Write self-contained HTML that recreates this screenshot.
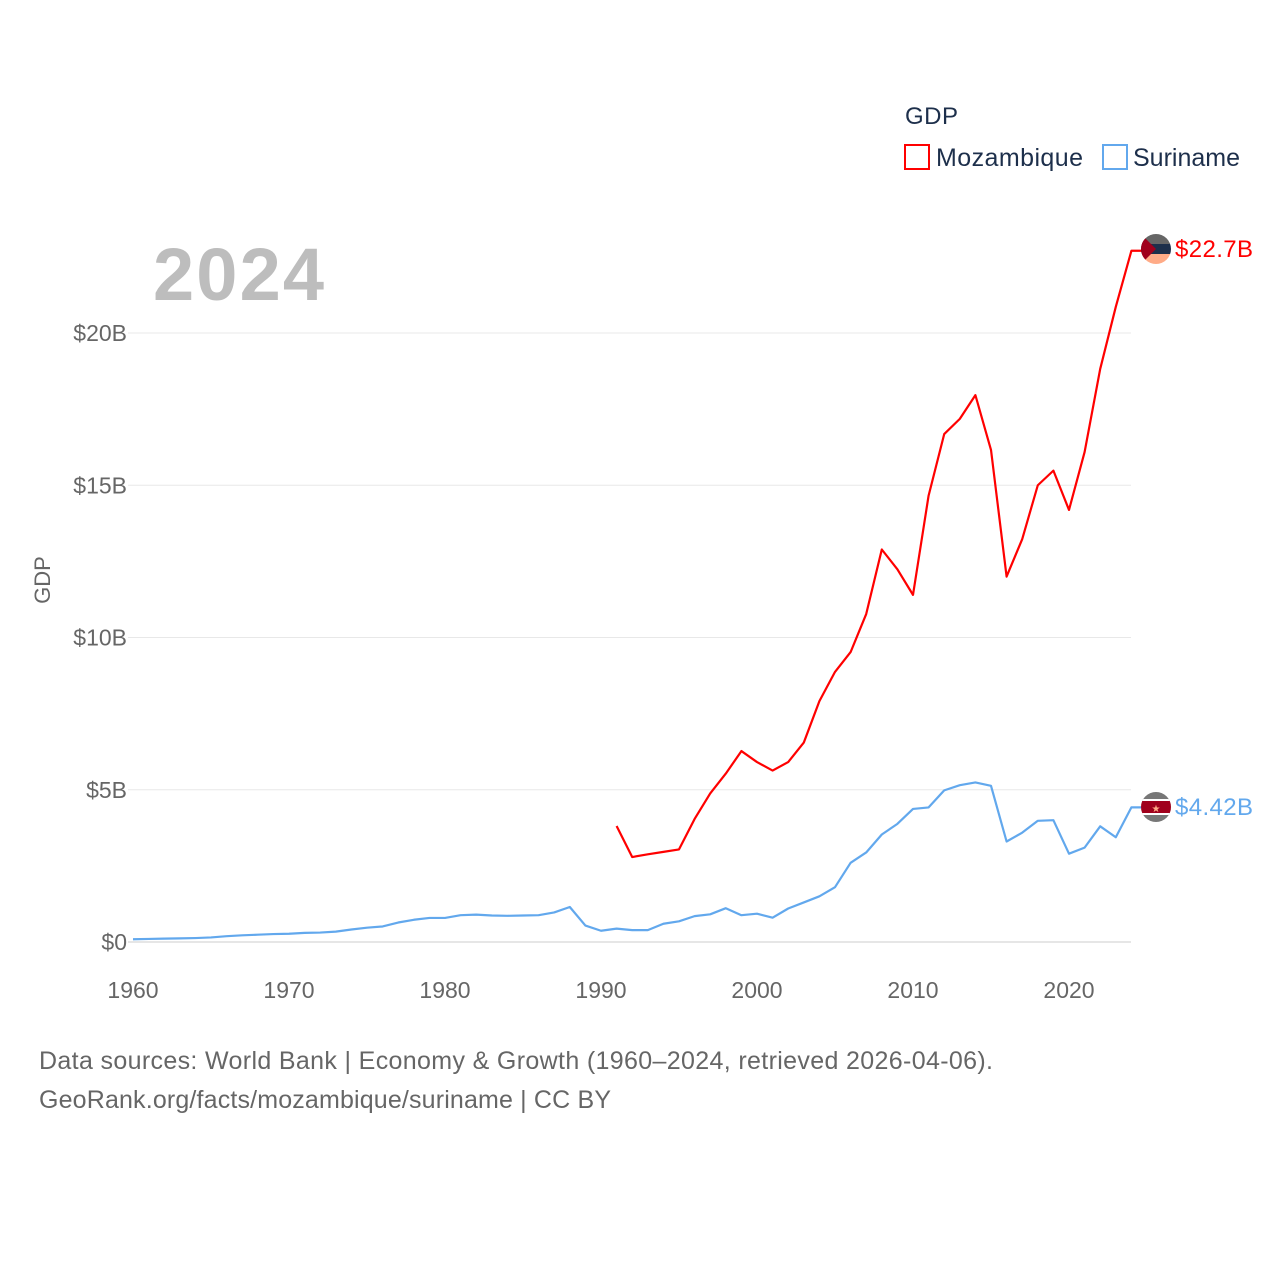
<!DOCTYPE html>
<html><head><meta charset="utf-8"><style>
body{margin:0;background:#fff;}
svg{display:block;font-family:"Liberation Sans",sans-serif;}
</style></head><body>
<svg id="chart" width="1280" height="1280" viewBox="0 0 1280 1280">
<g id="grid"></g>
<g id="lines"></g>
<text x="153" y="300" font-size="74" font-weight="bold" fill="#bdbdbd" textLength="171">2024</text>
<text transform="translate(50,580) rotate(-90)" text-anchor="middle" font-size="22" fill="#666">GDP</text>
<g>
<text x="905" y="124" font-size="24" fill="#1d2f4b" textLength="53">GDP</text>
<g><rect x="905" y="145" width="24" height="24" fill="none" stroke="#ff0000" stroke-width="2"/><text x="936" y="166" font-size="25" fill="#1d2f4b" textLength="147">Mozambique</text></g>
<g><rect x="1103" y="145" width="24" height="24" fill="none" stroke="#62a8ed" stroke-width="2"/><text x="1133" y="166" font-size="25" fill="#1d2f4b" textLength="107">Suriname</text></g>
</g>
<g>
<clipPath id="c1"><circle cx="1156" cy="249" r="15"/></clipPath>
<g clip-path="url(#c1)"><rect x="1141" y="234" width="30" height="10" fill="#666"/><rect x="1141" y="244" width="30" height="10" fill="#1d2f4b"/><rect x="1141" y="254" width="30" height="10" fill="#ffab87"/><polygon points="1141,234 1156,249 1141,264" fill="#a0001c"/></g></g>
<g>
<clipPath id="c2"><circle cx="1156" cy="807" r="15"/></clipPath>
<g clip-path="url(#c2)"><rect x="1141" y="792" width="30" height="30" fill="#777"/><rect x="1141" y="799" width="30" height="16" fill="#fff"/><rect x="1141" y="801" width="30" height="12" fill="#a0001c"/><text x="1156" y="812" font-size="10" text-anchor="middle" fill="#ffab87">★</text></g></g>
<text x="1175" y="257" font-size="24" fill="#ff0000" textLength="78">$22.7B</text>
<text x="1175" y="815" font-size="24" fill="#62a8ed" textLength="78">$4.42B</text>
<text x="39" y="1069" font-size="25" fill="#666" textLength="954">Data sources: World Bank | Economy &amp; Growth (1960–2024, retrieved 2026-04-06).</text>
<text x="39" y="1108" font-size="25" fill="#666" textLength="572">GeoRank.org/facts/mozambique/suriname | CC BY</text>
</svg>
<script>
const mozYears=[1991,1992,1993,1994,1995,1996,1997,1998,1999,2000,2001,2002,2003,2004,2005,2006,2007,2008,2009,2010,2011,2012,2013,2014,2015,2016,2017,2018,2019,2020,2021,2022,2023,2024];
const mozValues=[3.81,2.79,2.88,2.96,3.04,4.04,4.88,5.53,6.27,5.91,5.63,5.91,6.55,7.91,8.87,9.52,10.77,12.89,12.24,11.4,14.66,16.68,17.18,17.96,16.16,12.0,13.23,15.0,15.48,14.19,16.09,18.82,20.86,22.7];
const surStart=1960;
const surValues=[0.09,0.1,0.11,0.12,0.13,0.15,0.19,0.22,0.24,0.26,0.27,0.3,0.31,0.34,0.41,0.47,0.51,0.64,0.73,0.79,0.79,0.88,0.9,0.87,0.86,0.87,0.88,0.97,1.15,0.54,0.37,0.44,0.39,0.39,0.6,0.68,0.85,0.91,1.11,0.88,0.93,0.8,1.1,1.3,1.5,1.8,2.6,2.94,3.53,3.88,4.37,4.42,4.98,5.15,5.24,5.13,3.3,3.59,3.98,4.0,2.9,3.1,3.8,3.44,4.42];
const yTicks=[0,5,10,15,20];
const yTickLabels=['$0','$5B','$10B','$15B','$20B'];
const xTicks=[1960,1970,1980,1990,2000,2010,2020];
const NS='http://www.w3.org/2000/svg';
const xs=y=>133+(y-1960)*15.6;
const ys=v=>942-v*30.45;
const grid=document.getElementById('grid'),lines=document.getElementById('lines');
function mk(tag,attrs,parent){const e=document.createElementNS(NS,tag);for(const k in attrs)e.setAttribute(k,attrs[k]);parent.appendChild(e);return e;}
yTicks.forEach((v,i)=>{
  const l=mk('line',{x1:128,x2:1131,y1:ys(v),y2:ys(v),stroke:v===0?'#ddd':'#e8e8e8','stroke-width':v===0?1.5:1},grid);
  
  
  const t=mk('text',{x:127,y:ys(v)+8,'text-anchor':'end','font-size':23,fill:'#666'},grid);
  t.textContent=yTickLabels[i];
  
  
});
xTicks.forEach(y=>{
  const t=mk('text',{x:xs(y),y:998,'text-anchor':'middle','font-size':23,fill:'#666'},grid);
  t.textContent=y;
  
  
});
const mp=mozYears.map((y,i)=>xs(y)+','+ys(mozValues[i]));
mp.push('1142,'+ys(mozValues[mozValues.length-1]));
const m=mk('polyline',{points:mp.join(' '),fill:'none',stroke:'#ff0000','stroke-width':2.2,'stroke-linejoin':'round'},lines);


const sp=surValues.map((v,i)=>xs(surStart+i)+','+ys(v));
sp.push('1142,'+ys(surValues[surValues.length-1]));
const s=mk('polyline',{points:sp.join(' '),fill:'none',stroke:'#62a8ed','stroke-width':2.2,'stroke-linejoin':'round'},lines);


</script>
</body></html>
